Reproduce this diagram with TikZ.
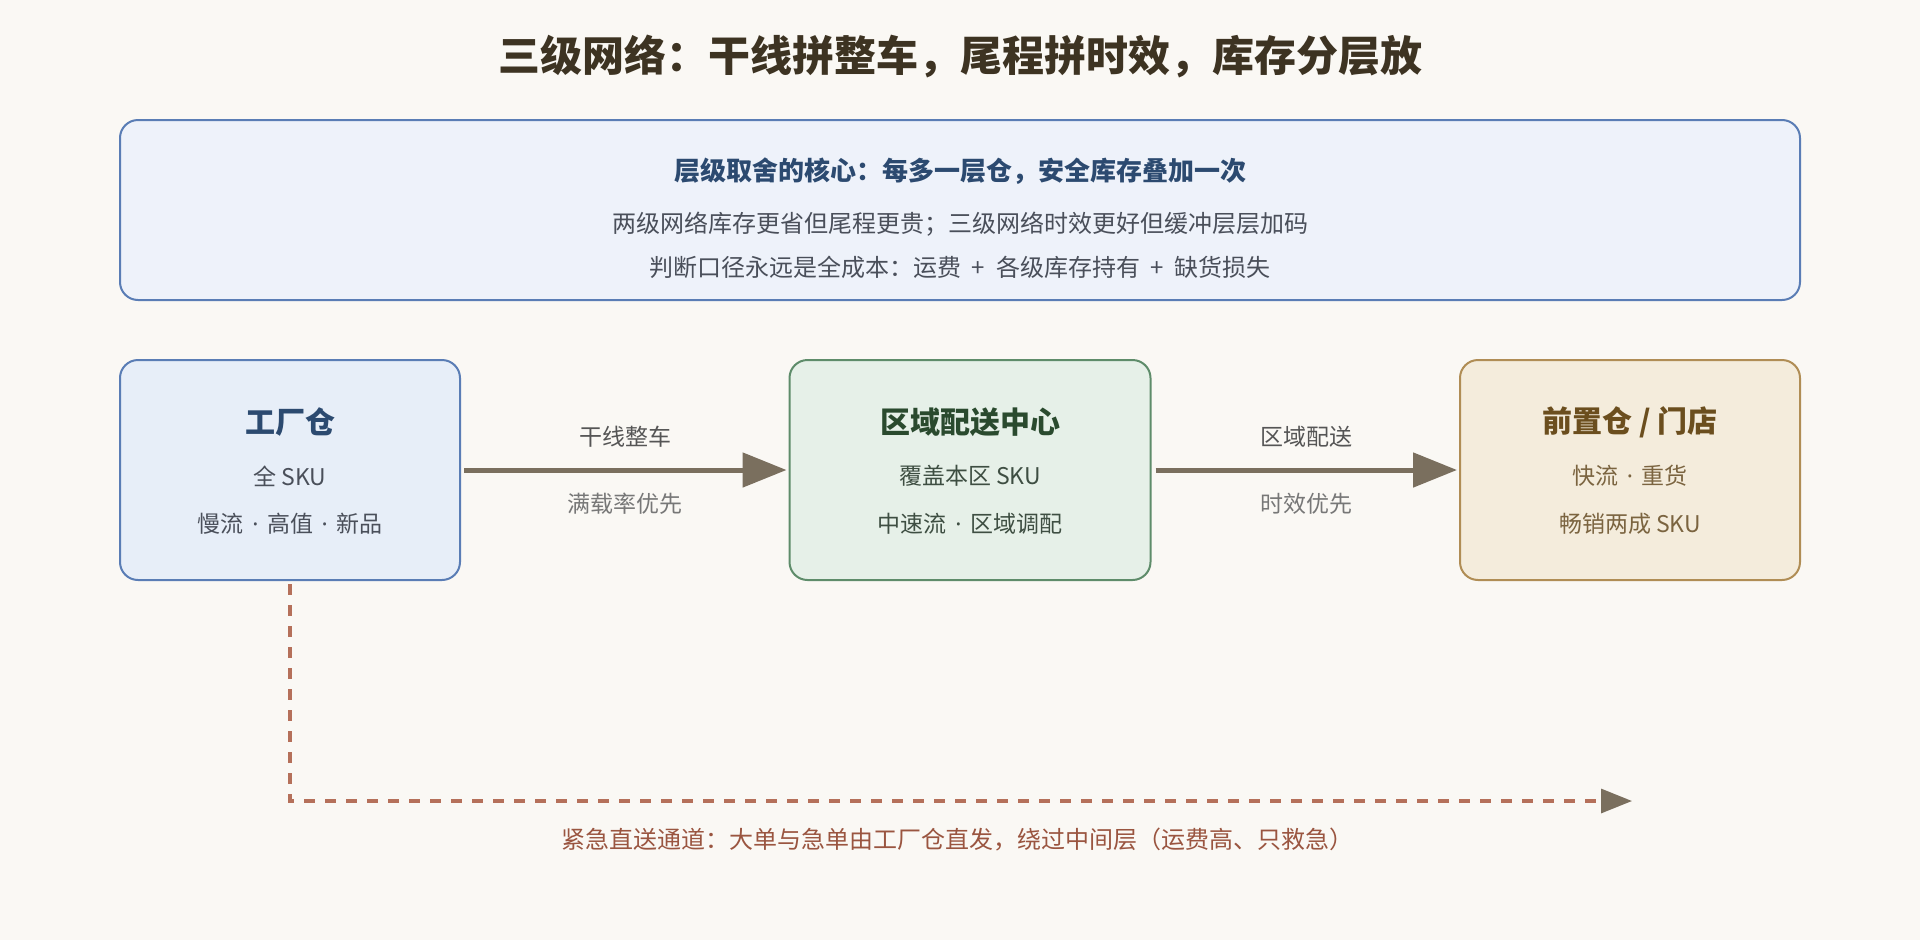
\documentclass[tikz,border=0pt]{standalone}
\usepackage{fontspec}
\setmainfont{Noto Sans CJK SC}
\newfontfamily\latinf{Noto Sans}
\newcommand{\mdot}{{\latinf\hspace{8.5pt}·\hspace{8.5pt}}}
\usetikzlibrary{arrows.meta}
\definecolor{bgc}{HTML}{FAF8F4}
\definecolor{titlec}{HTML}{3D3322}
\definecolor{topfill}{HTML}{EEF2FA}
\definecolor{topdraw}{HTML}{5A7DB5}
\definecolor{toptitle}{HTML}{2C4A70}
\definecolor{toptext}{HTML}{4A4F5A}
\definecolor{bafill}{HTML}{E7EEF8}
\definecolor{badraw}{HTML}{5A7DB5}
\definecolor{batitle}{HTML}{2C4A70}
\definecolor{batext}{HTML}{4A4F5A}
\definecolor{bbfill}{HTML}{E6F0E8}
\definecolor{bbdraw}{HTML}{5E8C6A}
\definecolor{bbtitle}{HTML}{2A4A2E}
\definecolor{bbtext}{HTML}{3E4E42}
\definecolor{bcfill}{HTML}{F4ECDC}
\definecolor{bcdraw}{HTML}{B08D55}
\definecolor{bctitle}{HTML}{6B4E1E}
\definecolor{bctext}{HTML}{7B6440}
\definecolor{arrowc}{HTML}{7A6F5E}
\definecolor{labtop}{HTML}{555555}
\definecolor{labbot}{HTML}{777777}
\definecolor{dashc}{HTML}{B5705A}
\definecolor{dashtext}{HTML}{9A5540}
\begin{document}
\begin{tikzpicture}[x=1pt,y=-1pt,
  panel/.style={rounded corners=18pt, line width=2pt, inner sep=0pt},
  txt/.style={inner sep=0pt, anchor=center},
  boxtitle/.style={txt, font=\fontsize{30}{36}\selectfont\bfseries},
  boxline/.style={txt, font=\fontsize{23}{28}\selectfont},
  flow/.style={line width=5pt, draw=arrowc, -{Triangle[length=44pt,width=34pt,color=arrowc]}},
  urgent/.style={line width=3.2pt, draw=dashc, dash pattern=on 11pt off 10pt, -{Triangle[length=31pt,width=24pt,color=arrowc]}}
]
\useasboundingbox (0,0) rectangle (1920,940);
\fill[bgc] (0,0) rectangle (1920,940);

\node[txt, text=titlec, font=\fontsize{42}{50}\selectfont\bfseries] (title) at (960,57) {三级网络：干线拼整车，尾程拼时效，库存分层放};

\node[panel, draw=topdraw, fill=topfill, minimum width=1680pt, minimum height=180pt] (top) at (960,210) {};
\node[txt, text=toptitle, font=\fontsize{26}{31}\selectfont\bfseries] (toph) at (960,171) {层级取舍的核心：每多一层仓，安全库存叠加一次};
\node[txt, text=toptext, font=\fontsize{24}{29}\selectfont] (topa) at (960,224) {两级网络库存更省但尾程更贵；三级网络时效更好但缓冲层层加码};
\node[txt, text=toptext, font=\fontsize{24}{29}\selectfont] (topb) at (960,267) {判断口径永远是全成本：运费 ~+~ 各级库存持有 ~+~ 缺货损失};

\node[panel, draw=badraw, fill=bafill, minimum width=340pt, minimum height=220pt] (b1) at (290,470) {};
\node[panel, draw=bbdraw, fill=bbfill, minimum width=361pt, minimum height=220pt] (b2) at (970,470) {};
\node[panel, draw=bcdraw, fill=bcfill, minimum width=340pt, minimum height=220pt] (b3) at (1630,470) {};

\node[boxtitle, text=batitle] (b1t) at (290,422) {工厂仓};
\node[boxline, text=batext] (b1a) at (290,476) {全 SKU};
\node[boxline, text=batext] (b1b) at (290,524) {慢流\mdot 高值\mdot 新品};

\node[boxtitle, text=bbtitle] (b2t) at (970,422) {区域配送中心};
\node[boxline, text=bbtext] (b2a) at (970,476) {覆盖本区 SKU};
\node[boxline, text=bbtext] (b2b) at (970,524) {中速流\mdot 区域调配};

\node[boxtitle, text=bctitle] (b3t) at (1630,422) {前置仓 / 门店};
\node[boxline, text=bctext] (b3a) at (1630,476) {快流\mdot 重货};
\node[boxline, text=bctext] (b3b) at (1630,524) {畅销两成 SKU};

\draw[flow, shorten <=3pt, shorten >=2pt] (b1.east) -- (b2.west);
\draw[flow, shorten <=4pt, shorten >=2pt] (b2.east) -- (b3.west);

\node[boxline, text=labtop] (l1a) at (625,437) {干线整车};
\node[boxline, text=labbot] (l1b) at (625,504) {满载率优先};
\node[boxline, text=labtop] (l2a) at (1306,437) {区域配送};
\node[boxline, text=labbot] (l2b) at (1306,504) {时效优先};

\coordinate (dcorner) at (290,801);
\coordinate (dend) at (1632,801);
\draw[urgent, shorten <=3pt] (b1.south) -- (dcorner) -- (dend);
\node[txt, text=dashtext, font=\fontsize{24}{29}\selectfont] (dlab) at (957,840) {紧急直送通道：大单与急单由工厂仓直发，绕过中间层（运费高、只救急）};
\end{tikzpicture}
\end{document}
